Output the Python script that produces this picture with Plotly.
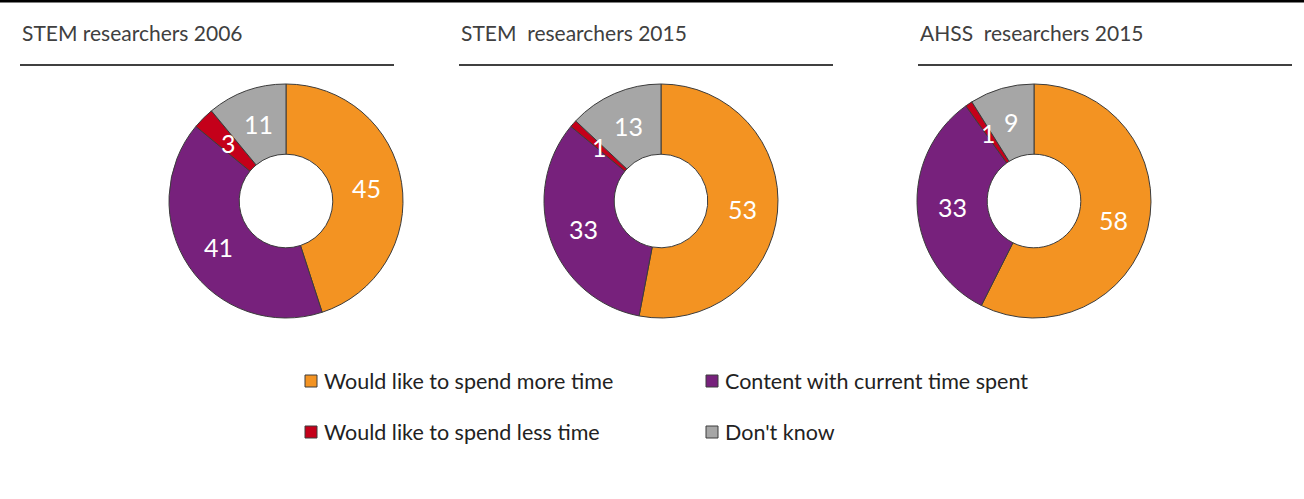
import math
import plotly.graph_objects as go

W, H = 1304, 499

# Survey answers (percent) per researcher group
titles = ["STEM researchers 2006", "STEM\u00a0 researchers 2015", "AHSS\u00a0 researchers 2015"]
categories = ["Would like to spend more time", "Content with current time spent",
              "Would like to spend less time", "Don't know"]
stem_2006 = [45, 41, 3, 11]
stem_2015 = [53, 33, 1, 13]
ahss_2015 = [58, 33, 1, 9]
series = [stem_2006, stem_2015, ahss_2015]

colors = ["#F39322", "#77217C", "#C4001A", "#A6A6A6"]
outline = "#3C3C3C"
text_dark = "#404040"
font_family = "Lato, 'Open Sans', sans-serif"

# Layout of the three panels (pixel geometry)
centers_x = [286, 661, 1034]
center_y = 201
radius = 117
hole = 0.40
panel_left = [20, 459, 918]
panel_width = 374

fig = go.Figure()
annotations = []
shapes = []

for i, vals in enumerate(series):
    cx = centers_x[i]
    fig.add_trace(go.Pie(
        labels=categories,
        values=vals,
        hole=hole,
        sort=False,
        direction="clockwise",
        rotation=0,
        textinfo="none",
        hoverinfo="label+value",
        marker=dict(colors=colors, line=dict(color=outline, width=1)),
        domain=dict(x=[(cx - radius) / W, (cx + radius) / W],
                    y=[1 - (center_y + radius) / H, 1 - (center_y - radius) / H]),
        showlegend=False,
    ))
    # value labels at the middle of each ring slice
    total = sum(vals)
    r_lab = radius * (1 + hole) / 2
    cum = 0
    for v in vals:
        mid = (cum + v / 2) / total * 2 * math.pi
        cum += v
        px = cx + r_lab * math.sin(mid)
        py = center_y - r_lab * math.cos(mid)
        annotations.append(dict(
            x=px / W, y=1 - py / H, xref="paper", yref="paper",
            text=str(v), showarrow=False,
            font=dict(family=font_family, size=25, color="white"),
            xanchor="center", yanchor="middle"))
    # panel title and rule
    annotations.append(dict(
        x=panel_left[i] / W, y=1 - 33 / H, xref="paper", yref="paper",
        text=titles[i], showarrow=False, xanchor="left", yanchor="middle",
        font=dict(family=font_family, size=21, color=text_dark)))
    shapes.append(dict(
        type="line", xref="paper", yref="paper",
        x0=panel_left[i] / W, x1=(panel_left[i] + panel_width) / W,
        y0=1 - 65 / H, y1=1 - 65 / H,
        line=dict(color=text_dark, width=2)))

# Legend: two columns, two rows
leg_x = [305, 706]
leg_y = [381, 432]
sq = 12
for k, name in enumerate(categories):
    lx = leg_x[k % 2]
    ly = leg_y[k // 2]
    shapes.append(dict(
        type="rect", xref="paper", yref="paper",
        x0=lx / W, x1=(lx + sq) / W,
        y0=1 - (ly + sq / 2) / H, y1=1 - (ly - sq / 2) / H,
        fillcolor=colors[k], line=dict(color=outline, width=1)))
    annotations.append(dict(
        x=(lx + sq + 5) / W, y=1 - ly / H, xref="paper", yref="paper",
        text=name, showarrow=False, xanchor="left", yanchor="middle",
        font=dict(family=font_family, size=21.5, color="#222222")))

# Top border rule
shapes.append(dict(type="line", xref="paper", yref="paper",
                   x0=0, x1=1, y0=1 - 1 / H, y1=1 - 1 / H,
                   line=dict(color="black", width=3)))

fig.update_layout(
    width=W, height=H,
    margin=dict(l=0, r=0, t=0, b=0),
    paper_bgcolor="white", plot_bgcolor="white",
    annotations=annotations, shapes=shapes,
)

fig.write_html("out.html")
